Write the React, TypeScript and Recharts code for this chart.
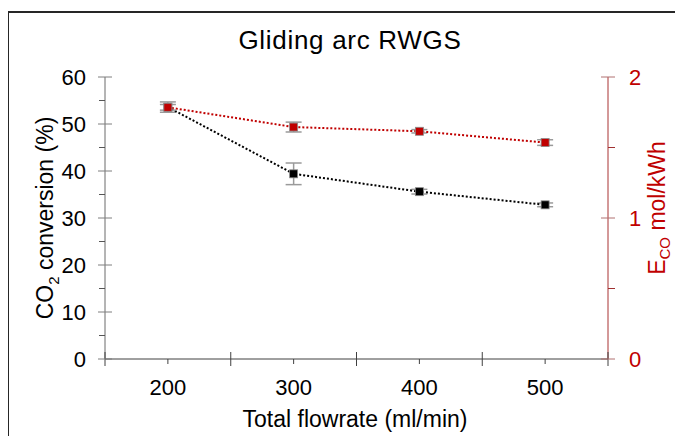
import React from "react";
import {
  ComposedChart,
  Line,
  XAxis,
  YAxis,
  ErrorBar,
  Label,
} from "recharts";

// values
const flowrates = [200, 300, 400, 500];
const conversion = [53.6, 39.4, 35.6, 32.8];
const conversionErr = [1.1, 2.3, 0.5, 0.4];
const energy = [1.785, 1.645, 1.615, 1.535];
const energyErr = [0.02, 0.035, 0.012, 0.02];

const xTicks = [150, 200, 250, 300, 350, 400, 450, 500, 550];
const leftTicks = [0, 5, 10, 15, 20, 25, 30, 35, 40, 45, 50, 55, 60];
const rightTicks = [0, 0.5, 1, 1.5, 2];

const data = flowrates.map((x, i) => ({
  x,
  conv: conversion[i],
  convErr: conversionErr[i],
  eco: energy[i],
  ecoErr: energyErr[i],
}));

const FONT = "'Liberation Sans', Arial, sans-serif";
const RED = "#c00000";

const XTick = (props: any) => {
  const { x, y, payload } = props;
  const v = payload.value;
  const major = (v - 150) % 100 === 0;
  return (
    <g>
      {major ? (
        <line x1={x} x2={x} y1={y - 7} y2={y + 7} stroke="#404040" />
      ) : (
        <line x1={x} x2={x} y1={y} y2={y + 5} stroke="#404040" />
      )}
      {!major && (
        <text x={x} y={y + 36} textAnchor="middle" fontSize={22} fill="#000" fontFamily={FONT}>
          {v}
        </text>
      )}
    </g>
  );
};

const LeftTick = (props: any) => {
  const { x, y, payload } = props;
  const v = payload.value;
  const major = v % 10 === 0;
  return (
    <g>
      {major ? (
        <line x1={x - 7} x2={x + 7} y1={y} y2={y} stroke="#7f7f7f" />
      ) : (
        <line x1={x - 6} x2={x} y1={y} y2={y} stroke="#555" />
      )}
      {major && (
        <text x={x - 19} y={y + 8} textAnchor="end" fontSize={22} fill="#000" fontFamily={FONT}>
          {v}
        </text>
      )}
    </g>
  );
};

const RightTick = (props: any) => {
  const { x, y, payload } = props;
  const v = payload.value;
  const major = v % 1 === 0;
  return (
    <g>
      {major ? (
        <line x1={x - 7} x2={x + 7} y1={y} y2={y} stroke="#b07070" />
      ) : (
        <line x1={x} x2={x + 7} y1={y} y2={y} stroke="#a03030" />
      )}
      {major && (
        <text x={x + 21} y={y + 8} textAnchor="start" fontSize={22} fill={RED} fontFamily={FONT}>
          {v}
        </text>
      )}
    </g>
  );
};

const square = (fill: string) => (props: any) => {
  const { cx, cy, index } = props;
  return (
    <rect
      key={index}
      x={cx - 4}
      y={cy - 4}
      width={8}
      height={8}
      fill={fill}
      stroke="#8c8c8c"
      strokeWidth={0.8}
    />
  );
};

export default function App() {
  return (
    <div style={{ position: "relative", width: 675, height: 428, fontFamily: FONT }}>
      <div
        style={{
          position: "absolute",
          left: -1,
          top: 3,
          width: 676,
          height: 433,
          borderLeft: "2px solid #262626",
          borderTop: "2px solid #262626",
          boxSizing: "border-box",
          pointerEvents: "none",
        }}
      />
      <div
        style={{
          position: "absolute",
          left: 142,
          width: 400,
          top: 17,
          textAlign: "center",
          fontSize: 26,
          letterSpacing: 0.7,
          lineHeight: "30px",
          color: "#000",
        }}
      >
        Gliding arc RWGS
      </div>
      <ComposedChart
        width={675}
        height={428}
        data={data}
        margin={{ top: 69, right: 15, bottom: 17, left: 37 }}
      >
        <XAxis
          dataKey="x"
          type="number"
          domain={[150, 550]}
          ticks={xTicks}
          interval={0}
          height={60}
          tickSize={0}
          tickMargin={0}
          tickLine={false}
          axisLine={{ stroke: "#404040" }}
          tick={<XTick />}
        >
          <Label
            content={() => (
              <text x={347} y={419} textAnchor="middle" fontSize={23} fill="#000" fontFamily={FONT}>
                Total flowrate (ml/min)
              </text>
            )}
          />
        </XAxis>
        <YAxis
          yAxisId="left"
          type="number"
          domain={[0, 60]}
          ticks={leftTicks}
          interval={0}
          width={60}
          tickSize={0}
          tickMargin={0}
          tickLine={false}
          axisLine={{ stroke: "#6b6b6b" }}
          tick={<LeftTick />}
        >
          <Label
            content={() => (
              <text
                x={45}
                y={210}
                transform="rotate(-90, 45, 210)"
                textAnchor="middle"
                fontSize={23}
                fill="#000"
                fontFamily={FONT}
              >
                CO
                <tspan fontSize={15} dy={6}>2</tspan>
                <tspan dy={-6}> conversion (%)</tspan>
              </text>
            )}
          />
        </YAxis>
        <YAxis
          yAxisId="right"
          orientation="right"
          type="number"
          domain={[0, 2]}
          ticks={rightTicks}
          interval={0}
          width={60}
          tickSize={0}
          tickMargin={0}
          tickLine={false}
          axisLine={{ stroke: "#a83232" }}
          tick={<RightTick />}
        >
          <Label
            content={() => (
              <text
                x={657}
                y={200}
                transform="rotate(-90, 657, 200)"
                textAnchor="middle"
                fontSize={23}
                fill={RED}
                fontFamily={FONT}
              >
                E
                <tspan fontSize={15} dy={5}>CO</tspan>
                <tspan dy={-5}> mol/kWh</tspan>
              </text>
            )}
          />
        </YAxis>
        <Line
          yAxisId="left"
          type="linear"
          dataKey="conv"
          stroke="#000"
          strokeWidth={2}
          strokeDasharray="2 2"
          dot={square("#000")}
          activeDot={false}
          isAnimationActive={false}
        >
          <ErrorBar dataKey="convErr" direction="y" width={8} stroke="#9a9a9a" strokeWidth={1.5} />
        </Line>
        <Line
          yAxisId="right"
          type="linear"
          dataKey="eco"
          stroke={RED}
          strokeWidth={2}
          strokeDasharray="2 2"
          dot={square(RED)}
          activeDot={false}
          isAnimationActive={false}
        >
          <ErrorBar dataKey="ecoErr" direction="y" width={8} stroke="#9a9a9a" strokeWidth={1.5} />
        </Line>
      </ComposedChart>
    </div>
  );
}
